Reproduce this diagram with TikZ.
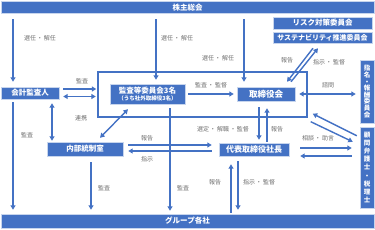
\documentclass[tikz,border=0pt]{standalone}
\usepackage{fontspec}
\setmainfont{Noto Sans CJK JP}
\usetikzlibrary{arrows.meta,calc}
\definecolor{myblue}{HTML}{4472C4}
\definecolor{lblgray}{HTML}{6E6E6E}
\begin{document}
\begin{tikzpicture}[x=1pt,y=-1pt,
  blk/.style={fill=myblue,draw=white!70!myblue,line width=0.4pt,text=white,inner sep=0pt,font=\bfseries\fontsize{7.5}{8}\selectfont},
  arr/.style={draw=myblue,line width=1.4pt,-{Triangle[length=4.5pt,width=5pt]}},
  darr/.style={draw=myblue,line width=1.4pt,{Triangle[length=4.5pt,width=5pt]}-{Triangle[length=4.5pt,width=5pt]}},
  lbl/.style={text=lblgray,inner sep=0pt,font=\fontsize{6}{6}\selectfont},
  frm/.style={draw=myblue,line width=1.4pt,inner sep=0pt}
]
\useasboundingbox (0,0) rectangle (375,230);

% frame round the board
\node[frm,minimum width=209pt,minimum height=45pt] (board) at (202.5,94.5) {};

% boxes
\node[blk,minimum width=373pt,minimum height=12pt] (kabu) at (187.5,7.5) {株主総会};
\node[blk,minimum width=373pt,minimum height=14pt] (group) at (187.5,221) {グループ各社};
\node[blk,minimum width=99pt,minimum height=12pt] (risk) at (322.5,23) {リスク対策委員会};
\node[blk,minimum width=99pt,minimum height=11pt,font=\bfseries\fontsize{7}{7}\selectfont] (sust) at (322.5,38) {サステナビリティ推進委員会};
\node[blk,minimum width=58pt,minimum height=12pt] (kaikei) at (30,93) {会計監査人};
\node[blk,minimum width=75pt,minimum height=20pt,align=center] (kansa) at (147.5,94) {監査等委員会3名\\[-1.5pt]{\fontsize{5.5}{6}\selectfont （うち社外取締役3名）}};
\node[blk,minimum width=58pt,minimum height=14pt,font=\bfseries\fontsize{8.5}{9}\selectfont] (tori) at (266,94) {取締役会};
\node[blk,minimum width=14pt,minimum height=63pt,align=center,font=\bfseries\fontsize{6.5}{6.6}\selectfont] (shimei) at (367,91.5) {指\\名\\・\\報\\酬\\委\\員\\会};
\node[blk,minimum width=14pt,minimum height=81pt,align=center,font=\bfseries\fontsize{6.5}{8.1}\selectfont] (komon) at (367,167.5) {顧\\問\\弁\\護\\士\\・\\税\\理\\士};
\node[blk,minimum width=76pt,minimum height=14pt] (naibu) at (85,149) {内部統制室};
\node[blk,minimum width=70pt,minimum height=13pt,font=\bfseries\fontsize{8}{8}\selectfont] (daihyo) at (254,149.5) {代表取締役社長};

% helper coordinates
\coordinate (xA) at (13,0);
\coordinate (xB) at (156,0);
\coordinate (xC) at (244,0);
\coordinate (xD) at (52,0);
\coordinate (xE) at (91,0);
\coordinate (xF) at (170,0);
\coordinate (xG) at (259,0);
\coordinate (xH) at (267,0);
\coordinate (xI) at (231,0);
\coordinate (xJ) at (238,0);
\coordinate (yA) at (0,89);
\coordinate (yB) at (0,96.5);
\coordinate (yC) at (0,148);
\coordinate (yD) at (0,156);
\coordinate (yE) at (0,145);
\coordinate (yF) at (0,151);

% connectors
\draw[arr,shorten <=5.5pt,shorten >=5pt] (xA |- kabu.south) -- (xA |- kaikei.north);
\draw[arr,shorten <=5.5pt,shorten >=4pt] (xB |- kabu.south) -- (xB |- kansa.north);
\draw[arr,shorten <=5.5pt,shorten >=5pt] (xC |- kabu.south) -- (xC |- tori.north);
\draw[arr,shorten <=4pt,shorten >=1pt] (kaikei.east |- yA) -- (board.west |- yA);
\draw[darr,shorten <=4pt,shorten >=1.5pt] (kaikei.east |- yB) -- (board.west |- yB);
\draw[arr,shorten <=3pt,shorten >=3pt] (kansa.east) -- (tori.west);
\draw[darr,shorten <=4pt,shorten >=4pt] (tori.east) -- (tori.east -| shimei.west);
\draw[arr] ($(sust.south)+(-9.5,4.5)$) -- ($(tori.north)+(21,-5)$);
\draw[arr] ($(tori.north)+(25,-5)$) -- ($(sust.south)+(-4.5,4.5)$);
\draw[arr] ($(komon.north west)+(-3,9)$) -- ($(board.south east)+(5,-4)$);
\draw[arr] ($(board.south east)+(3,4)$) -- ($(komon.north west)+(-7,15)$);
\draw[arr,shorten <=11pt,shorten >=8pt] (daihyo.east |- yC) -- (komon.west |- yC);
\draw[arr,shorten <=8pt,shorten >=11pt] (komon.west |- yD) -- (daihyo.east |- yD);
\draw[arr,shorten <=6pt,shorten >=3pt] (xG |- tori.south) -- (xG |- daihyo.north);
\draw[arr,shorten <=1pt,shorten >=7pt] (xH |- daihyo.north) -- (xH |- tori.south);
\draw[darr] ($(kansa.south)+(-19.5,5)$) -- ($(naibu.north)+(15,-4)$);
\draw[darr,shorten <=4pt,shorten >=1pt] (xD |- kaikei.south) -- (xD |- naibu.north);
\draw[arr,shorten <=3pt,shorten >=4pt] (xA |- kaikei.south) -- (xA |- group.north);
\draw[arr,shorten <=6pt,shorten >=4pt] (xE |- naibu.south) -- (xE |- group.north);
\draw[arr,shorten <=4pt,shorten >=3pt] (xF |- kansa.south) -- (xF |- group.north);
\draw[arr,shorten <=5pt,shorten >=7pt] (naibu.east |- yE) -- (daihyo.west |- yE);
\draw[arr,shorten <=7pt,shorten >=5pt] (daihyo.west |- yF) -- (naibu.east |- yF);
\draw[arr,shorten <=1pt,shorten >=8pt] (xI |- group.north) -- (xI |- daihyo.south);
\draw[arr,shorten <=5pt,shorten >=4pt] (xJ |- daihyo.south) -- (xJ |- group.north);

% labels
\node[lbl] (l1) at (40,38) {選任\hspace{1pt}・\hspace{1pt}解任};
\node[lbl] (l2) at (177,38) {選任\hspace{1pt}・\hspace{1pt}解任};
\node[lbl] (l3) at (218,58) {選任\hspace{1pt}・\hspace{1pt}解任};
\node[lbl] (l4) at (82,81) {監査};
\node[lbl] (l5) at (211,85) {監査\hspace{1pt}・\hspace{1pt}監督};
\node[lbl] (l6) at (328,85) {諮問};
\node[lbl] (l7) at (287,60) {報告};
\node[lbl] (l8) at (329,62) {指示\hspace{1pt}・\hspace{1pt}監督};
\node[lbl] (l9) at (81,118) {連携};
\node[lbl] (l10) at (27,135) {監査};
\node[lbl] (l11) at (147,138) {報告};
\node[lbl] (l12) at (147,159) {指示};
\node[lbl] (l13) at (223,129) {選定\hspace{1pt}・\hspace{1pt}解職\hspace{1pt}・\hspace{1pt}監督};
\node[lbl] (l14) at (277,129) {報告};
\node[lbl] (l15) at (318,138) {相談\hspace{1pt}・\hspace{1pt}助言};
\node[lbl] (l16) at (104,188) {監査};
\node[lbl] (l17) at (183,188) {監査};
\node[lbl] (l18) at (215,182) {報告};
\node[lbl] (l19) at (259,182) {指示\hspace{1pt}・\hspace{1pt}監督};
\end{tikzpicture}
\end{document}
